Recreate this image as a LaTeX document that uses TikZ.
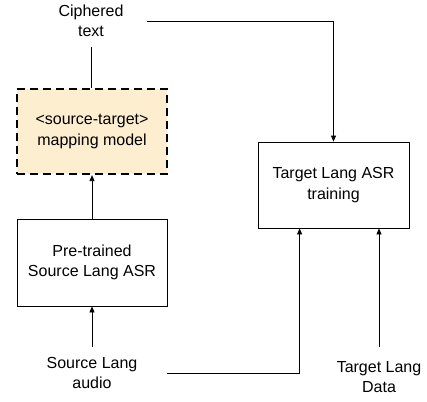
\documentclass[tikz,border=0pt]{standalone}
\usepackage{fontspec}
\setmainfont{Liberation Sans}
\usetikzlibrary{arrows.meta}
\definecolor{mapfill}{RGB}{253,238,208}
\tikzset{
  box/.style={draw=black, line width=0.8pt, minimum width=151pt, minimum height=86pt, align=center, inner sep=0pt},
  dbox/.style={draw=black, fill=mapfill, line width=2.2pt, dash pattern=on 8pt off 5pt, minimum width=150pt, minimum height=85pt, align=center, inner sep=0pt},
  lbl/.style={align=center, inner sep=0pt},
  conn/.style={draw=black, line width=0.8pt},
  arr/.style={conn, -{Triangle[length=6pt,width=5pt]}}
}
\begin{document}
\begin{tikzpicture}[x=1pt,y=-1pt, font=\fontsize{16}{20.5}\selectfont]
\useasboundingbox (0,0) rectangle (427,401);
\node[lbl, minimum width=112pt, minimum height=52pt] (c) at (91,21) {Ciphered\\text};
\node[dbox] (m) at (92,131.5) {<source-target>\\mapping model};
\node[box, minimum width=150pt, minimum height=87pt] (p) at (92,262.5) {Pre-trained\\Source Lang ASR};
\node[box] (t) at (333.5,185) {Target Lang ASR\\training};
\node[lbl, minimum width=150pt, minimum height=52pt] (s) at (92,373) {Source Lang\\audio};
\node[lbl, minimum height=60pt] (d) at (379,377) {Target Lang\\Data};
\draw[conn] (c.south) -- (c.south |- m.north);
\draw[arr] (c.east) -| (t.north);
\draw[arr] (m.south |- p.north) -- (m.south);
\draw[arr] (s.north) -- (p.south);
\draw[arr] (s.east) -| ([xshift=42pt]t.south west);
\draw[arr] (d.north) -- (d.north |- t.south);
\end{tikzpicture}
\end{document}
